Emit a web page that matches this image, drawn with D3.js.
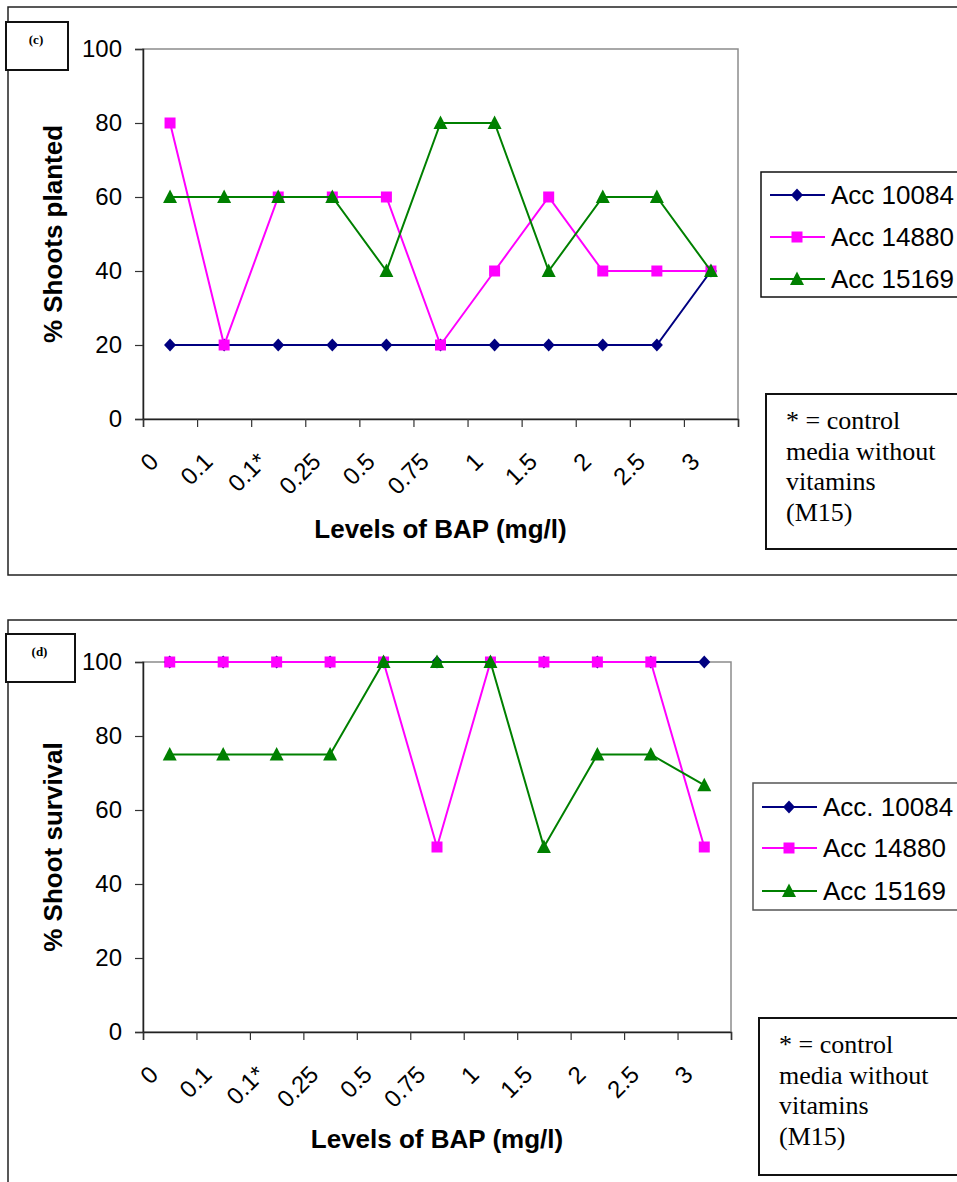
<!DOCTYPE html>
<html lang="en">
<head>
<meta charset="utf-8">
<title>Shoots planted and shoot survival vs BAP</title>
<script src="https://d3js.org/d3.v7.min.js"></script>
<style>
  body { margin: 0; background: #fff; }
  svg { display: block; }
</style>
</head>
<body>
<script>
// categories on the x axis (levels of BAP, mg/l)
var bapLevels = ["0", "0.1", "0.1*", "0.25", "0.5", "0.75", "1", "1.5", "2", "2.5", "3"];
var yTicks = [0, 20, 40, 60, 80, 100];

// panel (c): % shoots planted
var plantedAcc10084 = [20, 20, 20, 20, 20, 20, 20, 20, 20, 20, 40];
var plantedAcc14880 = [80, 20, 60, 60, 60, 20, 40, 60, 40, 40, 40];
var plantedAcc15169 = [60, 60, 60, 60, 40, 80, 80, 40, 60, 60, 40];

// panel (d): % shoot survival
var survivalAcc10084 = [100, 100, 100, 100, 100, 100, 100, 100, 100, 100, 100];
var survivalAcc14880 = [100, 100, 100, 100, 100, 50, 100, 100, 100, 100, 50];
var survivalAcc15169 = [75, 75, 75, 75, 100, 100, 100, 50, 75, 75, 66.7];

var seriesStyle = [
  { color: "#000080", marker: "diamond" },
  { color: "#ff00ff", marker: "square" },
  { color: "#008000", marker: "triangle" }
];

var sans = "'Liberation Sans', Arial, sans-serif";
var serif = "'Liberation Serif', 'Times New Roman', serif";

var svg = d3.select("body").append("svg")
    .attr("width", 957)
    .attr("height", 1182);

function markerPath(type) {
  if (type == "diamond") return "M0,-6.5L6,0L0,6.5L-6,0Z";
  if (type == "square") return "M-5.5,-5.5H5.5V5.5H-5.5Z";
  return "M0,-7.5L7,6L-7,6Z";
}

function drawPanel(p) {
  var g = svg.append("g");

  // outer frame of the panel
  g.append("rect")
      .attr("x", p.frame[0]).attr("y", p.frame[1])
      .attr("width", p.frame[2]).attr("height", p.frame[3])
      .attr("fill", "none").attr("stroke", "#222").attr("stroke-width", 1.5);

  // small (c)/(d) label box
  g.append("rect")
      .attr("x", p.tag[0]).attr("y", p.tag[1])
      .attr("width", p.tag[2]).attr("height", p.tag[3])
      .attr("fill", "#fff").attr("stroke", "#111").attr("stroke-width", 2);
  g.append("text")
      .attr("x", p.tag[0] + p.tag[2] / 2 - 1).attr("y", p.tag[1] + 22)
      .attr("text-anchor", "middle")
      .style("font-family", serif).style("font-weight", "bold").style("font-size", "13px")
      .text(p.tagText);

  var x = d3.scaleBand().domain(bapLevels).range([p.left, p.right]);
  var xEdge = d3.scaleLinear().domain([0, bapLevels.length]).range([p.left, p.right]);
  var y = d3.scaleLinear().domain([0, 100]).range([p.bottom, p.top]);

  // plot area border (grey on top/right)
  g.append("rect")
      .attr("x", p.left).attr("y", p.top)
      .attr("width", p.right - p.left).attr("height", p.bottom - p.top)
      .attr("fill", "none").attr("stroke", "#8c8c8c").attr("stroke-width", 1.5);

  var yAxis = g.append("g")
      .attr("transform", "translate(" + p.left + ",0)")
      .call(d3.axisLeft(y).tickValues(yTicks).tickSize(8).tickPadding(13));
  var xAxis = g.append("g")
      .attr("transform", "translate(0," + p.bottom + ")")
      .call(d3.axisBottom(xEdge).tickValues(d3.range(bapLevels.length + 1))
        .tickFormat("").tickSize(8));
  [yAxis, xAxis].forEach(function(a) {
    a.select(".domain").attr("stroke", "#222").attr("stroke-width", 1.5);
    a.selectAll(".tick line").attr("stroke", "#333").attr("stroke-width", 1.2);
  });
  yAxis.selectAll(".tick text")
      .style("font-family", sans).style("font-size", "24px").attr("fill", "#000");

  // rotated category labels
  g.selectAll(".xlab")
      .data(bapLevels)
      .enter().append("text")
      .attr("class", "xlab")
      .attr("transform", function(d) {
        return "translate(" + (x(d) + x.bandwidth() / 2 - 16) + "," + (p.bottom + 38) + ") rotate(-45)";
      })
      .attr("dy", "0.35em")
      .attr("text-anchor", "end")
      .style("font-family", sans).style("font-size", "24px")
      .text(function(d) { return d; });

  // axis titles
  g.append("text")
      .attr("transform", "translate(62," + ((p.top + p.bottom) / 2) + ") rotate(-90)")
      .attr("text-anchor", "middle")
      .style("font-family", sans).style("font-weight", "bold").style("font-size", "26px")
      .text(p.yTitle);
  g.append("text")
      .attr("x", (p.left + p.right) / 2).attr("y", p.xTitleY)
      .attr("text-anchor", "middle")
      .style("font-family", sans).style("font-weight", "bold").style("font-size", "26px")
      .text("Levels of BAP (mg/l)");

  // series
  var line = d3.line()
      .x(function(d, i) { return x(bapLevels[i]) + x.bandwidth() / 2; })
      .y(function(d) { return y(d); });

  p.series.forEach(function(s, k) {
    var st = seriesStyle[k];
    g.append("path")
        .attr("d", line(s.values))
        .attr("fill", "none").attr("stroke", st.color).attr("stroke-width", 2);
    g.selectAll(".m" + k)
        .data(s.values)
        .enter().append("path")
        .attr("class", "m" + k)
        .attr("d", markerPath(st.marker))
        .attr("transform", function(d, i) {
          return "translate(" + (x(bapLevels[i]) + x.bandwidth() / 2) + "," + y(d) + ")";
        })
        .attr("fill", st.color);
  });

  // legend
  var lg = p.legend;
  g.append("rect")
      .attr("x", lg.x).attr("y", lg.y).attr("width", 220).attr("height", lg.h)
      .attr("fill", "#fff").attr("stroke", lg.stroke).attr("stroke-width", 1.5);
  p.series.forEach(function(s, k) {
    var st = seriesStyle[k];
    var ly = lg.rows[k];
    g.append("line")
        .attr("x1", lg.x + 9).attr("x2", lg.x + 64).attr("y1", ly).attr("y2", ly)
        .attr("stroke", st.color).attr("stroke-width", 2);
    g.append("path")
        .attr("d", markerPath(st.marker))
        .attr("transform", "translate(" + (lg.x + 36) + "," + ly + ")")
        .attr("fill", st.color);
    g.append("text")
        .attr("x", lg.x + 70).attr("y", ly + 9)
        .style("font-family", sans).style("font-size", "26px")
        .text(s.name);
  });

  // note box
  var nb = p.note;
  g.append("rect")
      .attr("x", nb.x).attr("y", nb.y).attr("width", 220).attr("height", nb.h)
      .attr("fill", "#fff").attr("stroke", "#111").attr("stroke-width", 2);
  ["* = control", "media without", "vitamins", "(M15)"].forEach(function(t, i) {
    g.append("text")
        .attr("x", nb.x + 20).attr("y", nb.base + i * 30.7)
        .style("font-family", serif).style("font-size", "26px")
        .text(t);
  });
}

drawPanel({
  frame: [8, 7, 980, 568],
  tag: [6, 22, 62, 48], tagText: "(c)",
  left: 143, right: 738, top: 49, bottom: 419,
  yTitle: "% Shoots planted", xTitleY: 538,
  series: [
    { name: "Acc 10084", values: plantedAcc10084 },
    { name: "Acc 14880", values: plantedAcc14880 },
    { name: "Acc 15169", values: plantedAcc15169 }
  ],
  legend: { x: 761, y: 172, h: 125, rows: [195, 237, 279], stroke: "#111" },
  note: { x: 766, y: 394, h: 155, base: 429 }
});

drawPanel({
  frame: [8, 620, 980, 600],
  tag: [6, 634, 69, 48], tagText: "(d)",
  left: 143, right: 731, top: 662, bottom: 1032,
  yTitle: "% Shoot survival", xTitleY: 1148,
  series: [
    { name: "Acc. 10084", values: survivalAcc10084 },
    { name: "Acc 14880", values: survivalAcc14880 },
    { name: "Acc 15169", values: survivalAcc15169 }
  ],
  legend: { x: 753, y: 783, h: 127, rows: [807, 848, 891], stroke: "#555" },
  note: { x: 759, y: 1018, h: 157, base: 1053 }
});
</script>
</body>
</html>
